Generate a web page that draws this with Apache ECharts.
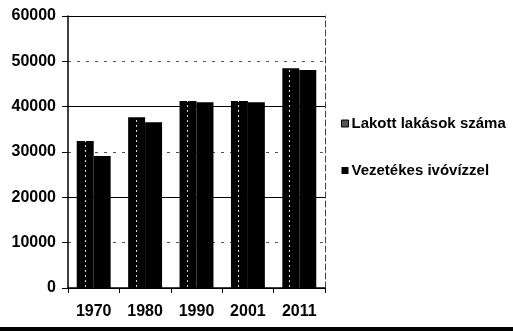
<!DOCTYPE html>
<html>
<head>
<meta charset="utf-8">
<script src="https://cdn.jsdelivr.net/npm/echarts@6/dist/echarts.min.js"></script>
<style>
  html, body { margin: 0; padding: 0; background: #fff; }
  #chart { width: 513px; height: 331px; }
</style>
</head>
<body>
<div id="chart"></div>
<script>
// Census years and dwelling counts
const years = ['1970', '1980', '1990', '2001', '2011'];
const lakott = [32400, 37650, 41250, 41250, 48500];
const vezetekes = [29100, 36550, 41000, 41000, 48100];
const seriesNames = ['Lakott lakások száma', 'Vezetékes ivóvízzel'];

const FONT = '"Liberation Sans", Arial, sans-serif';
const chart = echarts.init(document.getElementById('chart'), null, { renderer: 'canvas' });

chart.setOption({
  backgroundColor: '#fff',
  animation: false,
  grid: { left: 68, right: 188, top: 16, bottom: 43 },
  legend: {
    orient: 'vertical',
    left: 336,
    top: 111,
    itemWidth: 7,
    itemHeight: 7,
    itemGap: 32,
    icon: 'rect',
    textStyle: { fontFamily: FONT, fontSize: 15, fontWeight: 'bold', color: '#000', padding: [0, 0, 0, -2] },
    data: [
      // dotted fill of the first series shows as a lighter swatch with a dark rim
      { name: seriesNames[0], itemStyle: { color: '#555', borderColor: '#000', borderWidth: 1, decal: 'none' } },
      { name: seriesNames[1] }
    ]
  },
  xAxis: {
    type: 'category',
    data: years,
    boundaryGap: true,
    axisLine: { lineStyle: { color: '#000', width: 1.5 } },
    axisTick: { show: true, length: 5, lineStyle: { color: '#000' } },
    axisLabel: { fontFamily: FONT, fontSize: 16, fontWeight: 'bold', color: '#000', margin: 16 }
  },
  yAxis: [{
    type: 'value',
    min: 0, max: 60000, interval: 10000,
    axisLine: { show: true, lineStyle: { color: '#000', width: 1.5 } },
    axisTick: { show: true, length: 6, lineStyle: { color: '#000' } },
    axisLabel: { fontFamily: FONT, fontSize: 16, fontWeight: 'bold', color: '#000', margin: 12,
                 formatter: v => String(v) },
    splitLine: { show: true, lineStyle: { color: '#555', width: 1, type: [3, 6] } }
  }, {
    type: 'value',
    min: 0, max: 60000, interval: 20000,
    position: 'right',
    axisLine: { show: true, lineStyle: { color: '#444', width: 1, type: [6, 3] } },
    axisTick: { show: false },
    axisLabel: { show: false },
    splitLine: { show: true, lineStyle: { color: '#000', width: 1.2 } }
  }],
  series: [{
    name: seriesNames[0],
    type: 'bar',
    data: lakott,
    barGap: '0%',
    barCategoryGap: '34%',
    itemStyle: {
      color: '#000',
      decal: {
        symbol: 'rect',
        symbolSize: 1,
        color: 'rgba(255,255,255,0.85)',
        dashArrayX: [[1, 16]],
        dashArrayY: [2, 3],
        rotation: 0
      }
    }
  }, {
    name: seriesNames[1],
    type: 'bar',
    data: vezetekes,
    itemStyle: { color: '#000' }
  }],
  graphic: [{
    type: 'rect',
    shape: { x: 0, y: 327, width: 513, height: 4 },
    style: { fill: '#000' }
  }]
});
</script>
</body>
</html>
